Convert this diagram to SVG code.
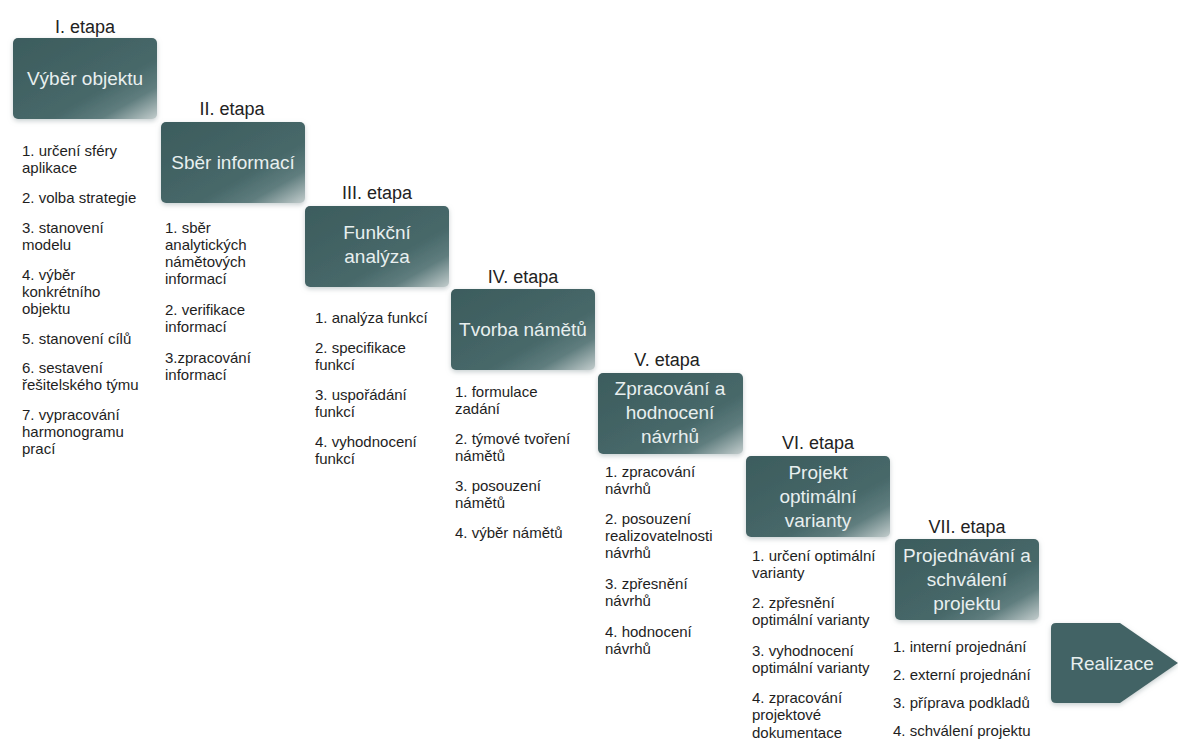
<svg xmlns="http://www.w3.org/2000/svg" width="1178" height="743" viewBox="0 0 1178 743">
<defs>
<linearGradient id="boxGrad" x1="0" y1="0" x2="1" y2="1">
<stop offset="0" stop-color="#3c5c5d"/>
<stop offset="0.62" stop-color="#476869"/>
<stop offset="0.8" stop-color="#5f7d7e"/>
<stop offset="1" stop-color="#c3cdcd"/>
</linearGradient>
<filter id="glow" x="-10%" y="-15%" width="120%" height="135%">
<feGaussianBlur in="SourceAlpha" stdDeviation="2.5"/>
<feOffset dx="0" dy="2" result="b"/>
<feFlood flood-color="#9aa8aa" flood-opacity="0.55"/>
<feComposite in2="b" operator="in"/>
<feMerge><feMergeNode/><feMergeNode in="SourceGraphic"/></feMerge>
</filter>
</defs>
<style>
.box{fill:url(#boxGrad);filter:url(#glow);}
.arrow{fill:#436465;filter:url(#glow);}
.bt{font-family:"Liberation Sans",Arial,sans-serif;font-size:19px;fill:#e8efef;text-anchor:middle;}
.et{font-family:"Liberation Sans",Arial,sans-serif;font-size:18px;fill:#222;text-anchor:middle;}
.li{font-family:"Liberation Sans",Arial,sans-serif;font-size:15px;fill:#1e1e1e;}
</style>
<rect width="1178" height="743" fill="#ffffff"/>
<g id="connectors"/>
<g id="stage1">
<text class="et" x="85" y="33">I. etapa</text>
<rect class="box" x="13" y="38" width="144" height="81" rx="5"/>
<text class="bt" x="85" y="85">Výběr objektu</text>
<g class="li">
<text x="22" y="156">1. určení sféry</text>
<text x="22" y="173">aplikace</text>
<text x="22" y="203">2. volba strategie</text>
<text x="22" y="233">3. stanovení</text>
<text x="22" y="250">modelu</text>
<text x="22" y="280">4. výběr</text>
<text x="22" y="297">konkrétního</text>
<text x="22" y="314">objektu</text>
<text x="22" y="344">5. stanovení cílů</text>
<text x="22" y="373">6. sestavení</text>
<text x="22" y="390">řešitelského týmu</text>
<text x="22" y="420">7. vypracování</text>
<text x="22" y="437">harmonogramu</text>
<text x="22" y="454">prací</text>
</g>
</g>
<g id="stage2">
<text class="et" x="232" y="115">II. etapa</text>
<rect class="box" x="161" y="122" width="144" height="81" rx="5"/>
<text class="bt" x="233" y="169">Sběr informací</text>
<g class="li">
<text x="165" y="233">1. sběr</text>
<text x="165" y="250">analytických</text>
<text x="165" y="267">námětových</text>
<text x="165" y="284">informací</text>
<text x="165" y="315">2. verifikace</text>
<text x="165" y="332">informací</text>
<text x="165" y="363">3.zpracování</text>
<text x="165" y="380">informací</text>
</g>
</g>
<g id="stage3">
<text class="et" x="377" y="199">III. etapa</text>
<rect class="box" x="305" y="206" width="144" height="81" rx="5"/>
<text class="bt" x="377" y="239">Funkční</text>
<text class="bt" x="377" y="263">analýza</text>
<g class="li">
<text x="315" y="323">1. analýza funkcí</text>
<text x="315" y="353">2. specifikace</text>
<text x="315" y="370">funkcí</text>
<text x="315" y="400">3. uspořádání</text>
<text x="315" y="417">funkcí</text>
<text x="315" y="447">4. vyhodnocení</text>
<text x="315" y="464">funkcí</text>
</g>
</g>
<g id="stage4">
<text class="et" x="523" y="283">IV. etapa</text>
<rect class="box" x="451" y="289" width="144" height="81" rx="5"/>
<text class="bt" x="523" y="336">Tvorba námětů</text>
<g class="li">
<text x="455" y="397">1. formulace</text>
<text x="455" y="414">zadání</text>
<text x="455" y="444">2. týmové tvoření</text>
<text x="455" y="461">námětů</text>
<text x="455" y="491">3. posouzení</text>
<text x="455" y="508">námětů</text>
<text x="455" y="538">4. výběr námětů</text>
</g>
</g>
<g id="stage5">
<text class="et" x="667" y="366">V. etapa</text>
<rect class="box" x="598" y="373" width="145" height="81" rx="5"/>
<text class="bt" x="670" y="395">Zpracování a</text>
<text class="bt" x="670" y="419">hodnocení</text>
<text class="bt" x="670" y="443">návrhů</text>
<g class="li">
<text x="605" y="477">1. zpracování</text>
<text x="605" y="494">návrhů</text>
<text x="605" y="524">2. posouzení</text>
<text x="605" y="541">realizovatelnosti</text>
<text x="605" y="558">návrhů</text>
<text x="605" y="589">3. zpřesnění</text>
<text x="605" y="606">návrhů</text>
<text x="605" y="637">4. hodnocení</text>
<text x="605" y="654">návrhů</text>
</g>
</g>
<g id="stage6">
<text class="et" x="818" y="449">VI. etapa</text>
<rect class="box" x="746" y="456" width="144" height="81" rx="5"/>
<text class="bt" x="818" y="479">Projekt</text>
<text class="bt" x="818" y="503">optimální</text>
<text class="bt" x="818" y="527">varianty</text>
<g class="li">
<text x="752" y="561">1. určení optimální</text>
<text x="752" y="578">varianty</text>
<text x="752" y="608">2. zpřesnění</text>
<text x="752" y="625">optimální varianty</text>
<text x="752" y="656">3. vyhodnocení</text>
<text x="752" y="673">optimální varianty</text>
<text x="752" y="703">4. zpracování</text>
<text x="752" y="720">projektové</text>
<text x="752" y="738">dokumentace</text>
</g>
</g>
<g id="stage7">
<text class="et" x="967" y="533">VII. etapa</text>
<rect class="box" x="895" y="539" width="144" height="81" rx="5"/>
<text class="bt" x="967" y="562">Projednávání a</text>
<text class="bt" x="967" y="586">schválení</text>
<text class="bt" x="967" y="610">projektu</text>
<g class="li">
<text x="893" y="652">1. interní projednání</text>
<text x="893" y="680">2. externí projednání</text>
<text x="893" y="708">3. příprava podkladů</text>
<text x="893" y="736">4. schválení projektu</text>
</g>
</g>
<g id="realizace">
<path class="arrow" d="M1056,623 L1120,623 L1178,663 L1120,703 L1056,703 Q1051,703 1051,698 L1051,628 Q1051,623 1056,623 Z"/>
<text class="bt" x="1112" y="670">Realizace</text>
</g>
</svg>
